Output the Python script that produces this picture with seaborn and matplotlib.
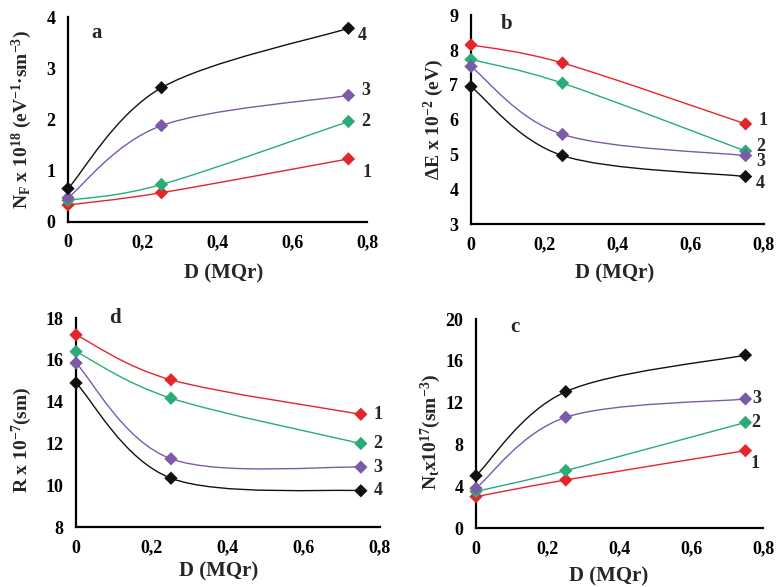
import numpy as np
import pandas as pd
import seaborn as sns
import matplotlib
matplotlib.use("Agg")
import matplotlib.pyplot as plt
from matplotlib.path import Path
from matplotlib.patches import PathPatch

# Dose (MQr) at which each sample was measured
dose = [0.0, 0.25, 0.75]
series_ids = ["1", "2", "3", "4"]
series_colors = ["#e3262b", "#2aab78", "#7b5aa8", "#111111"]

# Panel a: density of states at the Fermi level, N_F x 10^18
nf_vals = [[0.33, 0.57, 1.23], [0.42, 0.73, 1.96], [0.47, 1.88, 2.47], [0.65, 2.62, 3.78]]
# Panel b: energy spread, dE x 10^-2 eV
de_vals = [[8.15, 7.63, 5.88], [7.73, 7.05, 5.10], [7.53, 5.58, 4.97], [6.95, 4.97, 4.37]]
# Panel d: hopping distance, R x 10^-7 sm
r_vals = [[17.2, 15.05, 13.4], [16.4, 14.17, 12.0], [15.85, 11.27, 10.87], [14.9, 10.34, 9.74]]
# Panel c: trap concentration, N_t x 10^17
nt_vals = [[3.0, 4.6, 7.4], [3.5, 5.5, 10.1], [3.8, 10.6, 12.35], [5.0, 13.05, 16.55]]

x_ticks = [0, 0.2, 0.4, 0.6, 0.8]
x_ticklabels = ["0", "0,2", "0,4", "0,6", "0,8"]

sns.set_style("white")
plt.rcParams["font.family"] = ["Liberation Serif", "DejaVu Serif"]
plt.rcParams["font.weight"] = "bold"
plt.rcParams["mathtext.fontset"] = "custom"
plt.rcParams["mathtext.rm"] = "Liberation Serif:bold"
plt.rcParams["mathtext.it"] = "Liberation Serif:bold"
plt.rcParams["mathtext.bf"] = "Liberation Serif:bold"
plt.rcParams["axes.unicode_minus"] = True

fig = plt.figure(figsize=(7.79, 5.87), dpi=100)


def smooth_path(xs, ys):
    """Cubic Bezier path through the points (Catmull-Rom style smoothing)."""
    pts = np.column_stack([xs, ys]).astype(float)
    n = len(pts)
    verts = [pts[0]]
    codes = [Path.MOVETO]
    for i in range(n - 1):
        p0 = pts[i - 1] if i > 0 else pts[i]
        p1 = pts[i]
        p2 = pts[i + 1]
        p3 = pts[i + 2] if i + 2 < n else pts[i + 1]
        c1 = p1 + (p2 - p0) / 6.0
        c2 = p2 - (p3 - p1) / 6.0
        verts += [c1, c2, p2]
        codes += [Path.CURVE4] * 3
    return Path(np.array(verts), codes)


def panel(rect, values, ylim, yticks, ylabel, letter, letter_pos,
          ylabel_pos, xlabel_pos, label_offsets):
    ax = fig.add_axes(rect)
    rows = []
    for sid, vals in zip(series_ids, values):
        for d, v in zip(dose, vals):
            rows.append({"dose": d, "value": v, "series": sid})
    df = pd.DataFrame(rows)

    for sid, col, vals in zip(series_ids, series_colors, values):
        ax.add_patch(PathPatch(smooth_path(dose, vals), fill=False,
                               edgecolor=col, lw=1.0, zorder=2, clip_on=False))

    sns.scatterplot(data=df, x="dose", y="value", hue="series",
                    palette=dict(zip(series_ids, series_colors)),
                    marker="D", s=46, edgecolor=None, linewidth=0,
                    legend=False, ax=ax, zorder=3, clip_on=False)

    ax.set_xlim(0, 0.8)
    ax.set_ylim(*ylim)
    ax.set_xticks(x_ticks)
    ax.set_xticklabels(x_ticklabels)
    ax.set_yticks(yticks)
    ax.set_yticklabels([str(t) for t in yticks])
    ax.tick_params(direction="in", length=4, width=1.2, labelsize=13, pad=9,
                   colors="black")
    for side in ("top", "right"):
        ax.spines[side].set_visible(False)
    for side in ("left", "bottom"):
        ax.spines[side].set_linewidth(1.6)
        ax.spines[side].set_color("black")

    ax.set_xlabel("D (MQr)", fontsize=15, fontweight="bold")
    ax.set_ylabel(ylabel, fontsize=14, fontweight="bold")
    ax.xaxis.set_label_coords(*xlabel_pos)
    ax.yaxis.set_label_coords(*ylabel_pos)
    ax.xaxis.label.set_va("center")
    ax.yaxis.label.set_va("center")

    ax.text(letter_pos[0], letter_pos[1], letter, transform=ax.transAxes,
            fontsize=15, fontweight="bold", ha="center", va="center")

    for sid, vals in zip(series_ids, values):
        off = label_offsets.get(sid)
        if off is None:
            continue
        ax.annotate(sid, xy=(dose[-1], vals[-1]), xytext=off,
                    textcoords="offset pixels", fontsize=13, fontweight="bold",
                    ha="center", va="center", annotation_clip=False)
    return ax


panel([0.0873, 0.622, 0.384, 0.349], nf_vals, (0, 4), [0, 1, 2, 3, 4],
      "N$_F$ x 10$^{18}$ (eV$^{-1}$·sm$^{-3}$)", "a", (0.097, 0.92),
      (-0.154, 0.5), (0.52, -0.254),
      {"1": (19, -14), "2": (17, 0), "3": (17, 5), "4": (14, -7)})

panel([0.6046, 0.618, 0.376, 0.356], de_vals, (3, 9), [3, 4, 5, 6, 7, 8, 9],
      "ΔE x 10$^{-2}$ (eV)", "b", (0.12, 0.96),
      (-0.128, 0.5), (0.49, -0.234),
      {"1": (17, 3), "2": (15, 5), "3": (15, -6), "4": (15, -7)})

panel([0.0976, 0.102, 0.390, 0.356], r_vals, (8, 18), [8, 10, 12, 14, 16, 18],
      "R x 10$^{-7}$(sm)", "d", (0.128, 1.0),
      (-0.178, 0.42), (0.47, -0.21),
      {"1": (17, 0), "2": (17, 0), "3": (17, 0), "4": (17, 0)})

panel([0.611, 0.1005, 0.369, 0.356], nt_vals, (0, 20), [0, 4, 8, 12, 16, 20],
      "N$_t$x10$^{17}$(sm$^{-3}$)", "c", (0.136, 0.96),
      (-0.156, 0.46), (0.46, -0.234),
      {"1": (10, -13), "2": (10, 0), "3": (11, 0)})

fig.savefig("out.png", dpi=100, facecolor="white")
